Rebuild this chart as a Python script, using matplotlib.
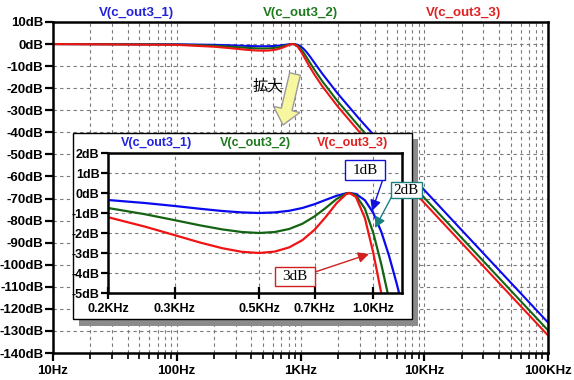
import matplotlib
matplotlib.use("Agg")
import matplotlib.pyplot as plt
from matplotlib.patches import Rectangle, FancyArrow
from matplotlib.transforms import IdentityTransform
from matplotlib.ticker import FixedLocator, FixedFormatter, LogLocator, NullFormatter, NullLocator

# ---------------- data ----------------
freq_hz = [10, 100, 200, 250, 300, 350, 400, 450, 500, 550,
           600, 650, 700, 750, 800, 850, 866, 900, 950, 1000,
           1050, 1100, 1150, 1200, 1300, 1500, 2000, 3000, 5000, 10000,
           20000, 50000, 100000]
gain_1db = [0.0, -0.10, -0.35, -0.50, -0.65, -0.79, -0.90, -0.97, -1.00, -0.97,
            -0.89, -0.75, -0.56, -0.34, -0.14, -0.01, 0.0, -0.05, -0.36, -1.00,
            -1.95, -3.14, -4.47, -5.84, -8.57, -13.42, -22.46, -34.05, -47.85, -66.11,
            -84.22, -108.11, -126.17]
gain_2db = [0.0, -0.22, -0.75, -1.06, -1.36, -1.62, -1.82, -1.95, -2.00, -1.95,
            -1.80, -1.54, -1.17, -0.74, -0.30, -0.02, 0.0, -0.12, -0.78, -2.00,
            -3.58, -5.31, -7.04, -8.70, -11.75, -16.85, -25.98, -37.58, -51.39, -69.65,
            -87.76, -111.65, -129.71]
gain_3db = [0.0, -0.36, -1.21, -1.68, -2.11, -2.48, -2.76, -2.94, -3.00, -2.93,
            -2.72, -2.36, -1.84, -1.19, -0.51, -0.04, 0.0, -0.20, -1.25, -3.00,
            -5.03, -7.06, -8.98, -10.76, -13.94, -19.12, -28.29, -39.89, -53.69, -71.96,
            -90.07, -113.96, -132.02]
series_names = ["V(c_out3_1)", "V(c_out3_2)", "V(c_out3_3)"]

main_xticks = [10, 100, 1000, 10000, 100000]
main_xlabels = ["10Hz", "100Hz", "1KHz", "10KHz", "100KHz"]
main_yticks = [10, 0, -10, -20, -30, -40, -50, -60, -70, -80, -90, -100, -110, -120, -130, -140]
main_ylabels = ["10dB", "0dB", "-10dB", "-20dB", "-30dB", "-40dB", "-50dB", "-60dB", "-70dB",
                "-80dB", "-90dB", "-100dB", "-110dB", "-120dB", "-130dB", "-140dB"]
inset_xticks = [200, 300, 500, 700, 1000]
inset_xlabels = ["0.2KHz", "0.3KHz", "0.5KHz", "0.7KHz", "1.0KHz"]
inset_yticks = [2, 1, 0, -1, -2, -3, -4, -5]
inset_ylabels = ["2dB", "1dB", "0dB", "-1dB", "-2dB", "-3dB", "-4dB", "-5dB"]
ripple_labels = ["1dB", "2dB", "3dB"]
zoom_label = "拡大"

# ---------------- style ----------------
plt.rcParams['font.family'] = ['Liberation Sans', 'DejaVu Sans']
plt.rcParams['font.weight'] = 'bold'
line_colors = ['#0a0aee', '#146414', '#f01414']
text_colors = ['#2222dd', '#1e7a1e', '#e02020']
grid_kw = dict(color='#7a7a7a', linestyle=(0, (3, 3)), linewidth=0.8)

W, H = 574, 380
def fx(x):
    return x / W
def fy(y):
    return 1 - y / H

fig = plt.figure(figsize=(W / 100, H / 100), dpi=100)

# ---------------- main axes ----------------
ax = fig.add_axes([fx(53), fy(353), 495 / W, 331 / H], zorder=0)
ax.set_xscale('log')
for g, c in zip([gain_1db, gain_2db, gain_3db], line_colors):
    ax.plot(freq_hz, g, color=c, lw=1.5, solid_joinstyle='round')
ax.set_xlim(10, 100000)
ax.set_ylim(-140, 10)
ax.xaxis.set_major_locator(FixedLocator(main_xticks))
ax.xaxis.set_major_formatter(FixedFormatter(main_xlabels))
ax.xaxis.set_minor_locator(LogLocator(base=10, subs=[2, 3, 4, 5, 6, 7, 8, 9]))
ax.xaxis.set_minor_formatter(NullFormatter())
ax.yaxis.set_major_locator(FixedLocator(main_yticks))
ax.yaxis.set_major_formatter(FixedFormatter(main_ylabels))
ax.grid(which='both', axis='x', **grid_kw)
ax.grid(which='major', axis='y', **grid_kw)
ax.set_axisbelow(True)
for s in ax.spines.values():
    s.set_linewidth(1.8)
ax.tick_params(which='major', direction='out', length=6, width=1.6, labelsize=9.5, pad=1)
ax.tick_params(which='minor', direction='out', length=4, width=1.2)
ax.tick_params(axis='x', which='major', pad=3)

for name, c, x in zip(series_names, text_colors, [136, 300, 464]):
    fig.text(fx(x), fy(13), name, color=c, ha='center', va='center', fontsize=9.5, weight='bold')

# ---------------- inset box ----------------
fig.add_artist(Rectangle((fx(79), fy(326)), 339 / W, 187 / H, transform=fig.transFigure,
                         facecolor='#8c8c8c', edgecolor='none', zorder=1))
fig.add_artist(Rectangle((fx(73), fy(319)), 339 / W, 186 / H, transform=fig.transFigure,
                         facecolor='white', edgecolor='black', lw=1.0, zorder=2))

axi = fig.add_axes([fx(108), fy(293), 294 / W, 140 / H], zorder=3)
axi.set_xscale('log')
for g, c in zip([gain_1db, gain_2db, gain_3db], line_colors):
    axi.plot(freq_hz, g, color=c, lw=1.6, solid_joinstyle='round')
axi.set_xlim(200, 1190)
axi.set_ylim(-5, 2)
axi.xaxis.set_major_locator(FixedLocator(inset_xticks))
axi.xaxis.set_major_formatter(FixedFormatter(inset_xlabels))
axi.xaxis.set_minor_locator(NullLocator())
axi.yaxis.set_major_locator(FixedLocator(inset_yticks))
axi.yaxis.set_major_formatter(FixedFormatter(inset_ylabels))
axi.grid(which='major', **grid_kw)
axi.set_axisbelow(True)
for s in axi.spines.values():
    s.set_linewidth(1.8)
axi.tick_params(which='major', direction='out', length=5, width=1.6, labelsize=9, pad=1)
axi.tick_params(axis='x', which='major', direction='inout', length=8, pad=3)

for name, c, x in zip(series_names, text_colors, [157, 255, 353]):
    fig.text(fx(x), fy(143), name, color=c, ha='center', va='center', fontsize=9, weight='bold', zorder=4)

# ---------------- ripple annotations ----------------
ann_boxes = [(345, 160, 40, 20), (391, 182, 31, 16), (275, 267, 40, 19)]
ann_colors = ['#1010dd', '#1a8080', '#d02020']
ann_from = [(383, 179), (392, 196), (315, 272)]
ann_to = [(372, 211), (375, 228), (369, 254)]
for lbl, (bx, by, bw, bh), c, p0, p1 in zip(ripple_labels, ann_boxes, ann_colors, ann_from, ann_to):
    fig.add_artist(Rectangle((fx(bx), fy(by + bh)), bw / W, bh / H, transform=fig.transFigure,
                             facecolor='white', edgecolor=c, lw=1.0, zorder=6))
    fig.text(fx(bx + bw / 2), fy(by + bh / 2), lbl, ha='center', va='center',
             family=['Liberation Serif', 'DejaVu Serif'], weight='normal', fontsize=11,
             color='black', zorder=7)
    ann = axi.annotate('', xy=(fx(p1[0]), fy(p1[1])), xycoords='figure fraction',
                       xytext=(fx(p0[0]), fy(p0[1])), textcoords='figure fraction',
                       arrowprops=dict(arrowstyle='-|>', color=c, lw=1.0, mutation_scale=16,
                                       shrinkA=0, shrinkB=0),
                       annotation_clip=False)
    ann.set_zorder(5)

# ---------------- zoom arrow ----------------
fig.add_artist(FancyArrow(295, H - 74, 283 - 295, -(125 - 74), width=11, head_width=27,
                          head_length=16, length_includes_head=True,
                          facecolor='#f7f7a0', edgecolor='#9a9a9a', lw=1.0,
                          transform=IdentityTransform(), zorder=5))
fig.text(fx(268), fy(86), zoom_label, ha='center', va='center', fontsize=11, weight='normal',
         family=['Noto Sans CJK JP', 'DejaVu Sans'], color='black')

fig.savefig('out.png', dpi=100)
